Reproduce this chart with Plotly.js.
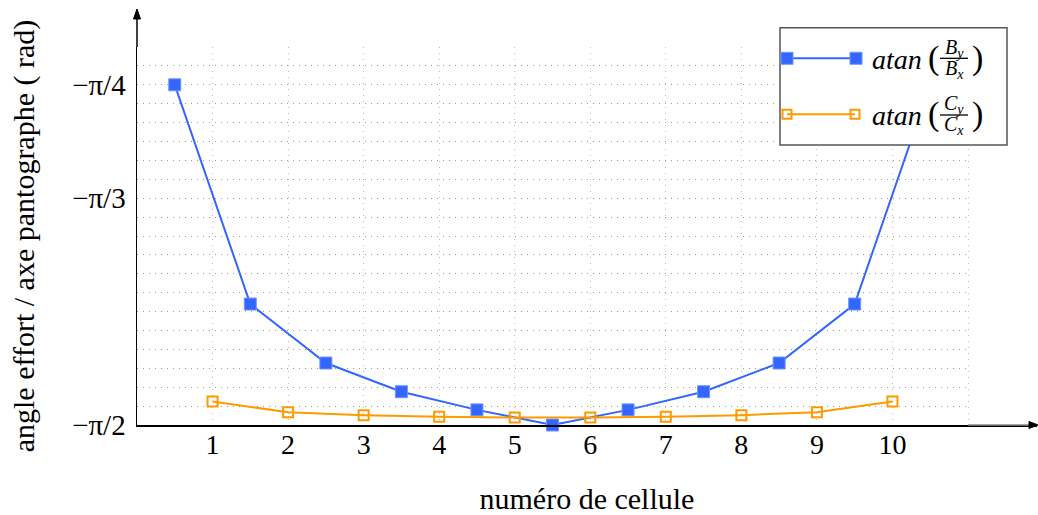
<!DOCTYPE html>
<html>
<head>
<meta charset="utf-8">
<script src="https://cdn.plot.ly/plotly-3.0.1.min.js"></script>
<style>html,body{margin:0;padding:0;background:#fff;}</style>
</head>
<body>
<div id="chart" style="width:1038px;height:515px;"></div>
<script>
// ---- data (angles in degrees) ----
const cellBX = [0.5, 1.5, 2.5, 3.5, 4.5, 5.5, 6.5, 7.5, 8.5, 9.5, 10.5];
const angleB = [-45, -74, -81.8, -85.6, -88, -90, -88, -85.6, -81.8, -74, -45];
const cellCX = [1, 2, 3, 4, 5, 6, 7, 8, 9, 10];
const angleC = [-86.9, -88.3, -88.7, -88.9, -89.0, -89.0, -88.9, -88.7, -88.3, -86.9];
const xTickVals = [1, 2, 3, 4, 5, 6, 7, 8, 9, 10, 11];
const xTickText = ['1', '2', '3', '4', '5', '6', '7', '8', '9', '10', ''];
const yTickVals = [-90, -60, -45];
const yTickText = ['\u2212\u03c0/2', '\u2212\u03c0/3', '\u2212\u03c0/4'];

const BLUE = '#3366ff';
const ORANGE = '#ff9900';
const FONT = 'Liberation Serif, Times New Roman, serif';

// plot-area pixel frame (plot area runs to the arrow tip), used to place decorations
const L = 137, R = 1037, T = 47, B = 425;
const GRID_END = 968;               // pixel where the grid stops (x = 11)
const X_MAX = 11 * (R - L) / (GRID_END - L);
const px = x => (x - L) / (R - L);
const py = y => (B - y) / (B - T);

const traces = [
  {
    x: cellBX, y: angleB, type: 'scatter', mode: 'lines+markers',
    line: {color: BLUE, width: 2},
    marker: {symbol: 'square', size: 12, color: BLUE, line: {color: '#6f95ff', width: 1}},
    cliponaxis: false, showlegend: false, name: 'atan(By/Bx)'
  },
  {
    x: cellCX, y: angleC, type: 'scatter', mode: 'lines+markers',
    line: {color: ORANGE, width: 2},
    marker: {symbol: 'square-open', size: 10, color: ORANGE, line: {color: ORANGE, width: 2}},
    cliponaxis: false, showlegend: false, name: 'atan(Cy/Cx)'
  }
];

function sq(cx, cy, s, fill, lc, lw) {
  return {type: 'rect', xref: 'paper', yref: 'paper',
    x0: px(cx - s / 2), x1: px(cx + s / 2), y0: py(cy + s / 2), y1: py(cy - s / 2),
    fillcolor: fill, line: {color: lc, width: lw}, layer: 'above'};
}
function seg(x0, y0, x1, y1, c, w) {
  return {type: 'line', xref: 'paper', yref: 'paper',
    x0: px(x0), y0: py(y0), x1: px(x1), y1: py(y1), line: {color: c, width: w}, layer: 'above'};
}
function tri(pts) {
  const p = pts.map((q, i) => (i ? 'L' : 'M') + px(q[0]) + ',' + py(q[1])).join(' ') + ' Z';
  return {type: 'path', xref: 'paper', yref: 'paper', path: p, fillcolor: '#000',
    line: {color: '#000', width: 1}, layer: 'above'};
}

const row1 = 58.3, row2 = 114.3;
const shapes = [
  // hide the grid beyond x = 11
  {type: 'rect', xref: 'paper', yref: 'paper', x0: px(GRID_END + 1.5), x1: 1.01, y0: py(423.5), y1: py(T - 2),
    fillcolor: '#fff', line: {width: 0}, layer: 'above'},
  // axis extensions with arrowheads
  seg(L, T, L, 18, '#000', 1.5),
  tri([[L, 9], [L - 3.5, 19], [L + 3.5, 19]]),
  seg(GRID_END, B, 1031, B, '#888', 1.6),
  tri([[1038, B], [1029, B - 3.5], [1029, B + 3.5]]),
  // legend box
  {type: 'rect', xref: 'paper', yref: 'paper', x0: px(780), x1: px(1007), y0: py(145), y1: py(27.7),
    fillcolor: '#fff', line: {color: '#555', width: 1.5}, layer: 'above'},
  seg(787, row1, 856, row1, BLUE, 2),
  sq(787, row1, 12, BLUE, '#6f95ff', 1),
  sq(856, row1, 12, BLUE, '#6f95ff', 1),
  seg(787, row2, 855, row2, ORANGE, 2),
  sq(787, row2, 9, 'rgba(0,0,0,0)', ORANGE, 2),
  sq(855, row2, 9, 'rgba(0,0,0,0)', ORANGE, 2),
  // fraction bars
  seg(940, row1, 968, row1, '#000', 1.3),
  seg(940, row2 + 0.7, 968, row2 + 0.7, '#000', 1.3)
];

function txt(t, x, y, size, xa) {
  return {text: t, xref: 'paper', yref: 'paper', x: px(x), y: py(y), showarrow: false,
    xanchor: xa || 'center', yanchor: 'middle', borderpad: 0,
    font: {family: FONT, size: size, color: '#000'}};
}
const legendRows = [
  {y: row1, num: '<i>B<sub>y</sub></i>', den: '<i>B<sub>x</sub></i>'},
  {y: row2, num: '<i>C<sub>y</sub></i>', den: '<i>C<sub>x</sub></i>'}
];
const annotations = [];
legendRows.forEach(r => {
  annotations.push(txt('<i>atan</i>', 871, r.y + 1, 28, 'left'));
  annotations.push(txt('(', 933, r.y, 34));
  annotations.push(txt(')', 977, r.y, 34));
  annotations.push(txt(r.num, 954, r.y - 10, 20));
  annotations.push(txt(r.den, 954, r.y + 11.5, 20));
});

const layout = {
  width: 1038, height: 515,
  margin: {l: L, r: 1038 - R, t: T, b: 515 - B},
  paper_bgcolor: '#fff', plot_bgcolor: '#fff',
  font: {family: FONT, color: '#000'},
  showlegend: false,
  xaxis: {
    range: [0, X_MAX], fixedrange: true,
    tickmode: 'array', tickvals: xTickVals, ticktext: xTickText,
    ticks: '', tickfont: {size: 28, family: FONT}, ticklabelstandoff: -6,
    showgrid: true, gridcolor: '#bdbdbd', gridwidth: 1, griddash: '1px,5px',
    zeroline: false, showline: true, linecolor: '#000', linewidth: 1.5,
    title: {text: 'numéro de cellule', font: {size: 30, family: FONT}, standoff: 30}
  },
  yaxis: {
    range: [-90, -40], fixedrange: true,
    tickmode: 'array', tickvals: yTickVals, ticktext: yTickText,
    ticks: '', tickfont: {size: 29, family: FONT}, ticklabelstandoff: 4,
    showgrid: true, gridcolor: '#9a9a9a', gridwidth: 1, griddash: '1px,5px',
    minor: {tickmode: 'linear', tick0: -90, dtick: 2.5, showgrid: true,
      gridcolor: '#9a9a9a', gridwidth: 1, griddash: '1px,5px', ticks: ''},
    zeroline: false, showline: true, linecolor: '#000', linewidth: 1.5,
    title: {text: 'angle effort / axe pantographe ( rad)', font: {size: 30, family: FONT}, standoff: 28}
  },
  shapes: shapes,
  annotations: annotations
};

Plotly.newPlot('chart', traces, layout, {displayModeBar: false, staticPlot: true});
</script>
</body>
</html>
